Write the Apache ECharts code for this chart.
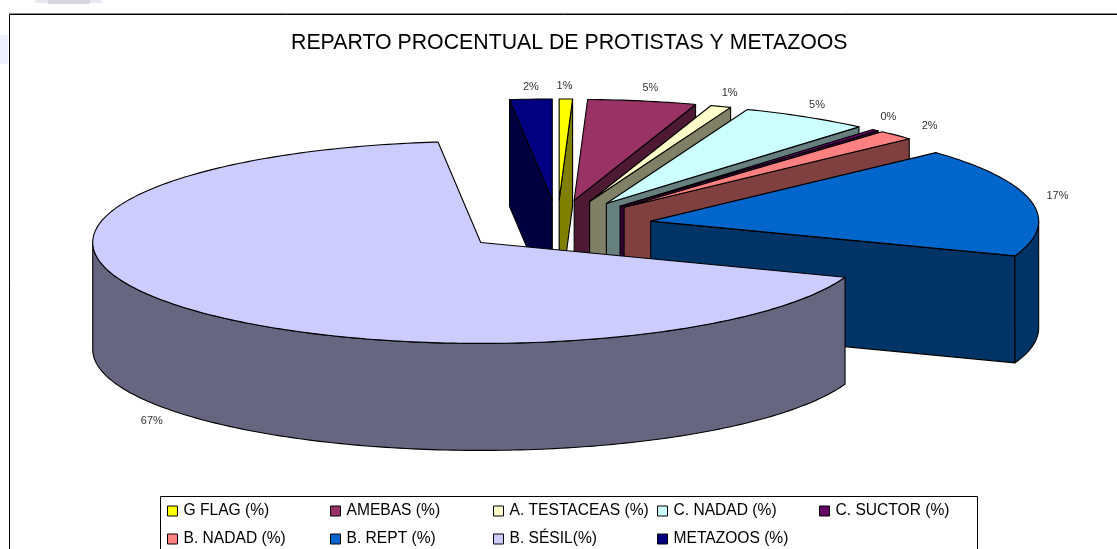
<!DOCTYPE html>
<html>
<head>
<meta charset="utf-8">
<style>
  html, body { margin: 0; padding: 0; background: #fff; }
  #chart { width: 1117px; height: 549px; }
</style>
<script src="https://cdn.jsdelivr.net/npm/echarts@6/dist/echarts.min.js"></script>
</head>
<body>
<div id="chart"></div>
<script>
// datos
const names = ["G FLAG (%)", "AMEBAS (%)", "A. TESTACEAS (%)", "C. NADAD (%)", "C. SUCTOR (%)", "B. NADAD (%)", "B. REPT (%)", "B. SÉSIL(%)", "METAZOOS (%)"];
const values = [0.55, 4.5, 0.85, 5.35, 0.3, 1.55, 17.4, 67.45, 1.75];
const topColors = ["#ffff00", "#993366", "#ffffcc", "#ccffff", "#660066", "#ff8080", "#0066cc", "#ccccff", "#000080"];
const wallColors = ["#808000", "#4d1933", "#808066", "#668080", "#330033", "#804040", "#003366", "#666680", "#000040"];
const legendColumns = [[0, 5], [1, 6], [2, 7], [3, 8], [4]];
const legendLeft = [167, 330, 493, 657, 819];

// geometria del pastel 3D
const CX = 557.5, CY = 225;
const EXPLODE_X = 95, EXPLODE_Y = 25;
const RX = 388, RY = 101, DEPTH = 107;
// ajuste fino de cada porcion y de las etiquetas
const apexNudge = [[0, 0], [0, 0], [0, 0], [0, 0], [0, 0], [0, 0], [0, 1], [-2, 2], [0, 0]];
const labelNudge = [[-2, 1], [2, 1], [-3, 0], [-7, 0], [-10, -3], [9, 1], [-8, -3], [4, 1], [2, 2]];

const total = values.reduce((a, b) => a + b, 0);
const rad = d => d * Math.PI / 180;

function sliceAngles(i) {
  let before = 0;
  for (let k = 0; k < i; k++) before += values[k];
  return [before / total * 360, (before + values[i]) / total * 360];
}

function edgePoint(apex, deg, dy) {
  return [apex[0] + RX * Math.sin(rad(deg)), apex[1] - RY * Math.cos(rad(deg)) + dy];
}

function face(points, fill, z2) {
  return {
    type: "polygon",
    shape: { points: points },
    style: { fill: fill, stroke: "#000", lineWidth: 1.1, lineJoin: "round" },
    z2: z2
  };
}

function renderSlice(i) {
  const [a0, a1] = sliceAngles(i);
  const mid = (a0 + a1) / 2;
  const apex = [
    CX + EXPLODE_X * Math.sin(rad(mid)) + apexNudge[i][0],
    CY - EXPLODE_Y * Math.cos(rad(mid)) + apexNudge[i][1]
  ];
  const low = [apex[0], apex[1] + DEPTH];
  const children = [];

  // paredes radiales, solo las que miran al observador
  if (Math.sin(rad(a0)) < 0) {
    children.push(face([apex, edgePoint(apex, a0, 0), edgePoint(apex, a0, DEPTH), low], wallColors[i], 1));
  }
  if (Math.sin(rad(a1)) > 0) {
    children.push(face([apex, edgePoint(apex, a1, 0), edgePoint(apex, a1, DEPTH), low], wallColors[i], 1));
  }

  // pared exterior, mitad delantera del arco
  const from = Math.max(a0, 90), to = Math.min(a1, 270);
  if (to > from) {
    const upper = [], lower = [];
    for (let d = from; d <= to; d += 1) {
      upper.push(edgePoint(apex, d, 0));
      lower.unshift(edgePoint(apex, d, DEPTH));
    }
    upper.push(edgePoint(apex, to, 0));
    lower.unshift(edgePoint(apex, to, DEPTH));
    children.push(face(upper.concat(lower), wallColors[i], 2));
  }

  // cara superior
  const top = [apex];
  for (let d = a0; d < a1; d += 1) top.push(edgePoint(apex, d, 0));
  top.push(edgePoint(apex, a1, 0));
  children.push(face(top, topColors[i], 3));

  // etiqueta de porcentaje
  const drop = Math.cos(rad(mid)) < 0 ? DEPTH : 0;
  children.push({
    type: "text",
    z2: 5,
    style: {
      x: apex[0] + (RX + 35) * Math.sin(rad(mid)) + labelNudge[i][0],
      y: apex[1] - (RY + 14) * Math.cos(rad(mid)) + drop + labelNudge[i][1],
      text: Math.round(values[i]) + "%",
      fill: "#333",
      font: "11px 'Liberation Sans', Arial, sans-serif",
      align: "center",
      verticalAlign: "middle"
    }
  });
  return { type: "group", children: children };
}

const chart = echarts.init(document.getElementById("chart"));
chart.setOption({
  animation: false,
  backgroundColor: "#fff",
  title: {
    text: "REPARTO PROCENTUAL DE PROTISTAS Y METAZOOS",
    left: 291,
    top: 33,
    padding: 0,
    textStyle: { color: "#000", fontWeight: "normal", fontSize: 21.3, fontFamily: "'Liberation Sans', Arial, sans-serif" }
  },
  legend: legendColumns.map((col, c) => ({
    orient: "vertical",
    left: legendLeft[c],
    top: 503,
    padding: 0,
    itemWidth: 10,
    itemHeight: 10,
    itemGap: 12,
    selectedMode: false,
    icon: "rect",
    textStyle: { color: "#000", fontSize: 15.6, padding: [0, 0, 0, 1], fontFamily: "'Liberation Sans', Arial, sans-serif" },
    data: col.map(i => ({ name: names[i], itemStyle: { color: topColors[i], borderColor: "#000", borderWidth: 1 } }))
  })),
  graphic: [
    { type: "rect", z: -2, shape: { x: 35, y: 0, width: 67, height: 3 }, style: { fill: "#e8e9f0" } },
    { type: "rect", z: -2, shape: { x: 48, y: 0, width: 42, height: 4 }, style: { fill: "#d5d6e2" } },
    { type: "rect", z: -2, shape: { x: 0, y: 35, width: 8, height: 29 }, style: { fill: "#eef0fd" } },
    { type: "rect", z: -2, shape: { x: 9, y: 13, width: 1108, height: 1 }, style: { fill: "#888" } },
    { type: "rect", z: -1, shape: { x: 9.5, y: 14.5, width: 1200, height: 600 }, style: { fill: "#fff", stroke: "#000", lineWidth: 1 } },
    { type: "rect", z: -1, shape: { x: 160.5, y: 496.5, width: 817, height: 60 }, style: { fill: "#fff", stroke: "#000", lineWidth: 1 } }
  ],
  series: names.map((name, i) => ({
    type: "custom",
    name: name,
    coordinateSystem: "none",
    silent: true,
    z: (i + 1) % names.length + 2,
    itemStyle: { color: topColors[i] },
    data: [[values[i]]],
    renderItem: () => renderSlice(i)
  }))
});
</script>
</body>
</html>
